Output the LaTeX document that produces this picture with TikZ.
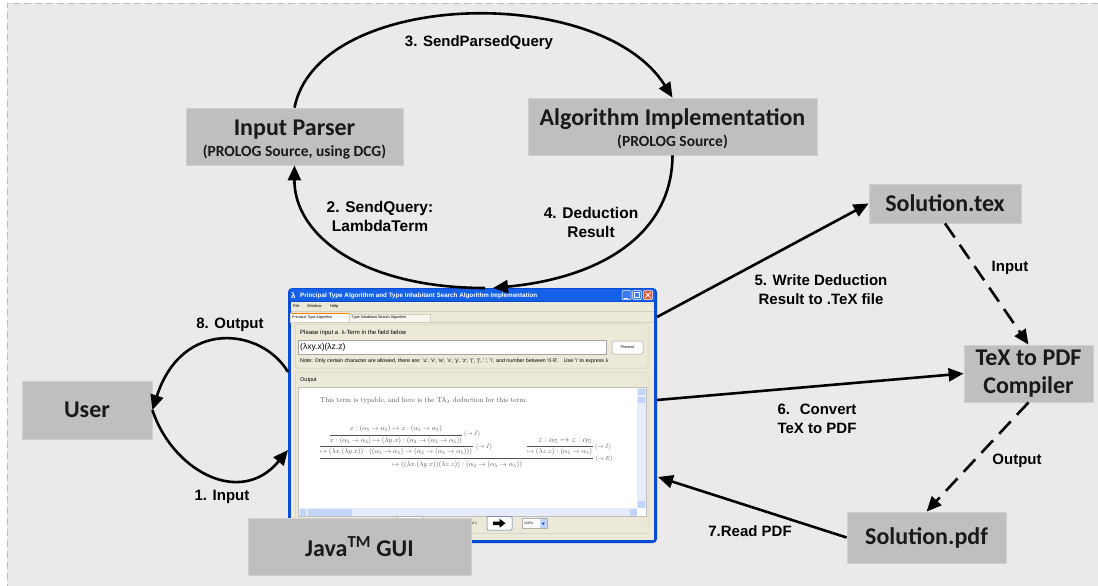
\documentclass[tikz,border=0pt]{standalone}
\usepackage{fontspec}
\usepackage{graphicx}
\newfontfamily\boxfont{Carlito}
\newfontfamily\labfont{Liberation Sans}
\usetikzlibrary{arrows.meta}

\definecolor{bgc}{HTML}{EAEAEA}
\definecolor{bordc}{HTML}{BDBDBD}
\definecolor{boxc}{HTML}{BFBFBF}
\definecolor{boxedge}{HTML}{CFCFCF}
\definecolor{xpblue}{HTML}{0A4BD6}
\definecolor{xptitle}{HTML}{1460E6}
\definecolor{xpbeige}{HTML}{ECE9D8}
\definecolor{xpline}{HTML}{D0CFC0}
\definecolor{xpred}{HTML}{E4572E}
\definecolor{xpbtn}{HTML}{3A78F0}
\definecolor{scrollc}{HTML}{E6ECFA}
\definecolor{thumbc}{HTML}{C3D5F7}
\definecolor{prooftxt}{HTML}{505050}

\tikzset{
  box/.style={fill=boxc, draw=boxedge, line width=0.8pt, inner sep=0pt, align=center,
    text=black!90, font=\boxfont\bfseries\fontsize{24}{28}\selectfont},
  link/.style={line width=2.6pt, -{Triangle[length=15pt,width=13pt]}},
  dlink/.style={link, dash pattern=on 17pt off 9pt},
  lab/.style={font=\labfont\bfseries\fontsize{15}{19}\selectfont, align=center, inner sep=0pt},
  ui/.style={font=\labfont\fontsize{4}{5}\selectfont, inner sep=0pt, anchor=west},
  prf/.style={inner sep=0pt, text=prooftxt},
  prfrule/.style={draw=prooftxt, line width=0.45pt},
  xpbutton/.style={draw=white, line width=0.5pt, minimum size=9pt, inner sep=0pt, rounded corners=1pt},
}
% strut that lowers a two-line box title a little
\newcommand{\titlestrut}{\rule{0pt}{22pt}}

\begin{document}
\begin{tikzpicture}[x=1pt, y=-1pt]
\useasboundingbox (0,0) rectangle (1098,586);

% canvas and its dashed frame
\fill[white] (0,0) rectangle (1098,586);
\fill[bgc] (7,3) rectangle (1098,586);
\draw[bordc, line width=0.9pt, dash pattern=on 7pt off 4pt] (1098,3) -- (7,3) -- (7,586);

% ---------- application window ----------
\node[fill=xpblue, minimum width=369pt, minimum height=255pt, inner sep=0pt, rounded corners=4pt] (win) at (472.5,415.5) {};
\fill[xptitle] (290,289) rectangle (655,301);
\fill[xpbeige] (291,302) rectangle (654,540);
\node[anchor=west, inner sep=0pt, text=white, font=\labfont\bfseries\fontsize{8}{8}\selectfont] (wicon) at (291,295) {λ};
\node[anchor=west, inner sep=0pt, text=white] (wtitle) at (300,295.5)
  {\resizebox{237pt}{!}{\labfont\bfseries Principal Type Algorithm and Type Inhabitant Search Algorithm Implementation}};
\node[xpbutton, fill=xpbtn] (bmin) at (626.5,295) {};
\draw[white, line width=0.9pt] (624,298) -- (627.5,298);
\node[xpbutton, fill=xpbtn] (bmax) at (637,295) {};
\draw[white, line width=0.6pt] (634.5,292.5) rectangle (639.5,297.5);
\node[xpbutton, fill=xpred] (bcls) at (648,295) {};
\draw[white, line width=0.8pt] (645.5,292.5) -- (650.5,297.5) (645.5,297.5) -- (650.5,292.5);

% menu bar and tabs
\node[ui] (mfile) at (293,306.5) {File};
\node[ui] (mwin) at (307,306.5) {Window};
\node[ui] (mhelp) at (330,306.5) {Help};
\draw[xpline, line width=0.5pt] (291,311) -- (654,311);
\draw[fill=xpbeige!40!white, draw=xpline, line width=0.5pt] (349,314) rectangle (430,322);
\draw[fill=white, draw=xpline, line width=0.5pt] (290.5,313) rectangle (349,322);
\draw[orange, line width=1pt] (291,313.4) -- (348.5,313.4);
\node[ui, font=\labfont\fontsize{3.7}{4}\selectfont] (tab1) at (292,318) {Principal Type Algorithm};
\node[ui, font=\labfont\fontsize{3.7}{4}\selectfont] (tab2) at (351.5,318) {Type Inhabitant Search Algorithm};
\draw[xpline, line width=0.5pt] (291,322) -- (654,322);

% input group
\draw[xpline, rounded corners=1.5pt, line width=0.5pt] (295.5,324) rectangle (648,368);
\node[ui, font=\labfont\fontsize{6}{7}\selectfont] (prompt) at (300,333) {Please input a \ λ-Term in the field below};
\draw[fill=white, draw=gray!70, line width=0.5pt] (298.5,340) rectangle (606,354.5);
\node[ui, font=\labfont\fontsize{8.5}{9}\selectfont] (term) at (300,347.5) {(λxy.x)(λz.z)};
\draw[fill=white!92!xpbeige, draw=gray!70, line width=0.5pt, rounded corners=1.5pt] (612,341) rectangle (643,354);
\node[font=\labfont\fontsize{3.8}{4}\selectfont, inner sep=0pt] (process) at (627.5,347.5) {Process};
\node[anchor=west, inner sep=0pt] (note) at (300,361)
  {\resizebox{308pt}{!}{\labfont Note: Only certain character are allowed, there are: 'u', 'v', 'w', 'x', 'y', 'z', '(', ')', '.', '\textbackslash', and number between '0-9'.\quad Use '\textbackslash' to express λ}};

% output group
\draw[xpline, rounded corners=1.5pt, line width=0.5pt] (295.5,372) rectangle (648,533.5);
\node[ui, font=\labfont\fontsize{5.5}{6}\selectfont] (outlbl) at (300,380) {Output};
\draw[fill=white, draw=gray!50, line width=0.5pt] (298.5,387) rectangle (646,516.5);
\fill[scrollc] (637,388) rectangle (645.5,508);
\fill[thumbc] (637.5,388.5) rectangle (645,395);
\fill[thumbc] (637.5,396.5) rectangle (645,403);
\fill[thumbc] (637.5,501) rectangle (645,507.5);
\fill[scrollc] (299,508) rectangle (637,516);
\fill[thumbc] (299.5,508.5) rectangle (306,515.5);
\fill[thumbc] (307.5,509) rectangle (352,515.5);
\fill[thumbc] (630,508.5) rectangle (636.5,515.5);

% deduction shown in the output area
\node[anchor=west, prf] (intro) at (320,400.5)
  {\resizebox{207pt}{!}{This term is typable, and here is the TA$_\lambda$ deduction for this term:}};
\node[prf] (p1) at (396,429) {\resizebox{92pt}{!}{$x:(\alpha_5\to\alpha_5)\mapsto x:(\alpha_5\to\alpha_5)$}};
\draw[prfrule] (330,435) -- (462,435);
\node[prf] (r1) at (472,434) {\resizebox{16pt}{!}{$(\to I)$}};
\node[prf] (p2) at (396,441) {\resizebox{132pt}{!}{$x:(\alpha_5\to\alpha_5)\mapsto(\lambda y.x):(\alpha_2\to(\alpha_5\to\alpha_5))$}};
\draw[prfrule] (320,446) -- (473,446);
\node[prf] (r2) at (484,447) {\resizebox{16pt}{!}{$(\to I)$}};
\node[prf] (p3) at (396,452) {\resizebox{152pt}{!}{$\mapsto(\lambda x.(\lambda y.x)):((\alpha_5\to\alpha_5)\to(\alpha_2\to(\alpha_5\to\alpha_5)))$}};
\node[prf] (q1) at (565,441) {\resizebox{54pt}{!}{$z:\alpha_5\mapsto z:\alpha_5$}};
\draw[prfrule] (527,446) -- (593,446);
\node[prf] (r3) at (603,447) {\resizebox{16pt}{!}{$(\to I)$}};
\node[prf] (q2) at (559.5,452) {\resizebox{65pt}{!}{$\mapsto(\lambda z.z):(\alpha_5\to\alpha_5)$}};
\draw[prfrule] (320,458) -- (593,458);
\node[prf] (r4) at (604,459) {\resizebox{17pt}{!}{$(\to E)$}};
\node[prf] (p4) at (457,465) {\resizebox{130pt}{!}{$\mapsto((\lambda x.(\lambda y.x))(\lambda z.z)):(\alpha_2\to(\alpha_5\to\alpha_5))$}};

% bottom tool row
\draw[fill=white, draw=gray!60, line width=0.5pt] (397,516.5) rectangle (422,530);
\node[ui, font=\labfont\fontsize{3.5}{4}\selectfont] (ofone) at (471,523.5) {of 1};
\draw[fill=white, draw=xpblue!40!gray, line width=0.5pt, rounded corners=1pt] (487,516.5) rectangle (512,530);
\fill[black] (493,521.5) -- (499.5,521.5) -- (499.5,518.8) -- (505.5,523.3) -- (499.5,527.8) -- (499.5,525.1) -- (493,525.1) -- cycle;
\draw[fill=white, draw=gray!60, line width=0.5pt] (522,518.5) rectangle (547,528.5);
\node[ui, font=\labfont\fontsize{3.5}{4}\selectfont] (zoom) at (524,523.5) {150\%};
\fill[thumbc] (540,519) rectangle (546.5,528);
\fill[xpblue] (541.5,522.5) -- (545,522.5) -- (543.25,525) -- cycle;

% ---------- component boxes ----------
\node[box, minimum width=217pt, minimum height=57pt] (parser) at (294.5,136.5)
  {\titlestrut Input Parser\\[-7pt]{\fontsize{15.5}{18}\selectfont(PROLOG Source, using DCG)}};
\node[box, minimum width=289pt, minimum height=57pt] (algo) at (672.5,126.5)
  {\titlestrut Algorithm Implementation\\[-7pt]{\fontsize{15.5}{18}\selectfont(PROLOG Source)}};
\node[box, minimum width=152pt, minimum height=39pt] (soltex) at (945,203.5) {Solution.tex};
\node[box, minimum width=129pt, minimum height=57pt] (comp) at (1028.5,373.5) {TeX to PDF\\Compiler};
\node[box, minimum width=159pt, minimum height=51pt] (solpdf) at (926.5,537.5) {Solution.pdf};
\node[box, minimum width=130pt, minimum height=58pt] (user) at (87,410) {User};

% attachment points on the window frame
\coordinate (wq) at (485,288);
\coordinate (wr) at (493,288);
\coordinate (wo) at (288,372);
\coordinate (wi) at (288,450);
\coordinate (wtex) at (657,317);
\coordinate (wconv) at (657,400);
\coordinate (wpdf) at (658,477);

% ---------- connectors ----------
\draw[link] (wq) .. controls (362,288) and (294,235) .. (parser.south);
\draw[link] (parser.north) .. controls (318,-10) and (600,-18) .. (algo.north);
\draw[link] (algo.south) .. controls (672,235) and (600,278) .. (wr);
\draw[link] (wo) .. controls (262,328) and (182,318) .. (user.east);
\draw[link] (user.east) .. controls (172,470) and (240,508) .. (wi);
\draw[link] (wtex) -- (soltex.west);
\draw[link] (wconv) -- (comp.west);
\draw[link] (solpdf.west) -- (wpdf);
\draw[dlink] (soltex.south) -- (comp.north);
\draw[dlink] (comp.south) -- (solpdf.north);

% Java box sits over the window's lower edge
\node[box, minimum width=223pt, minimum height=57pt] (java) at (359.5,546.5) {Java\textsuperscript{TM} GUI};

% ---------- connector labels ----------
\node[lab] (l3) at (479,43) {3. SendParsedQuery};
\node[lab, font=\labfont\bfseries\fontsize{15.5}{19}\selectfont] (l2) at (380,216.5) {2. SendQuery:\\LambdaTerm};
\node[lab, font=\labfont\bfseries\fontsize{15.5}{19}\selectfont] (l4) at (591,222.5) {4. Deduction\\Result};
\node[lab] (l8) at (230,325) {8. Output};
\node[lab] (l1) at (222,497) {1. Input};
\node[lab] (l5) at (821,290) {5. Write Deduction\\Result to .TeX file};
\node[lab] (l6) at (817,418.5) {6.~ Convert\\TeX to PDF};
\node[lab] (l7) at (750,531) {7.Read PDF};
\node[lab] (lin) at (1010,268) {Input};
\node[lab] (lout) at (1017,461) {Output};
\end{tikzpicture}
\end{document}
